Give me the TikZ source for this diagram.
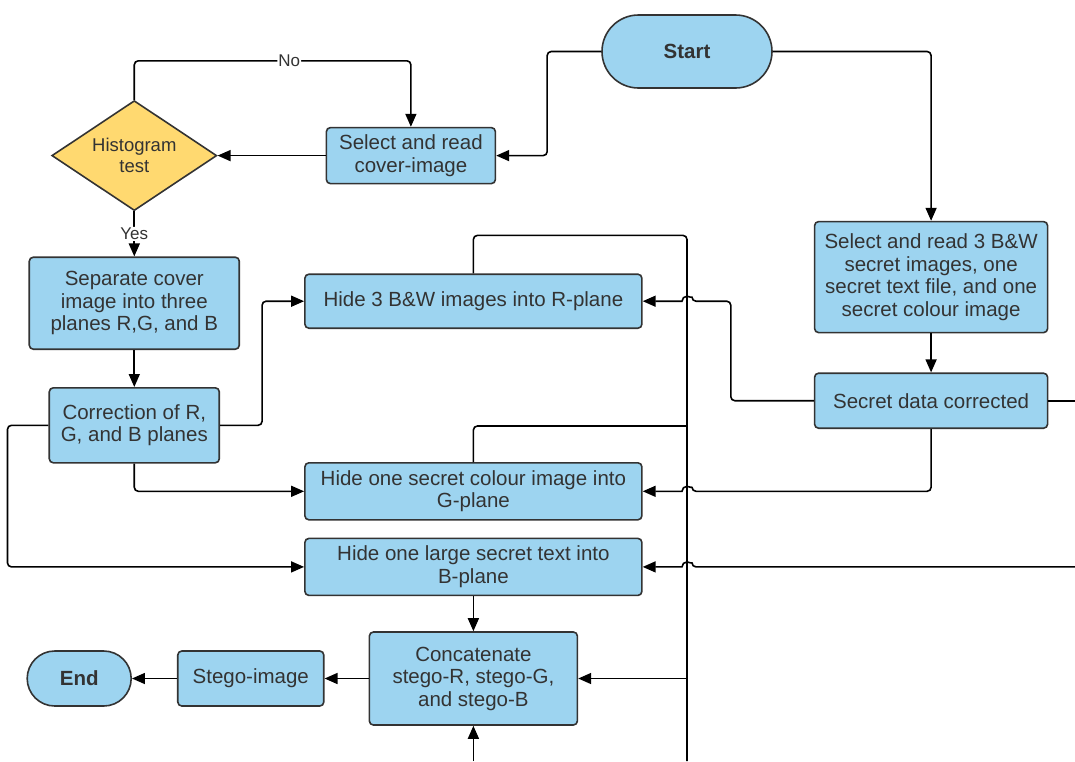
\documentclass[tikz,border=0pt]{standalone}
\usepackage{fontspec}
\setmainfont{Liberation Sans}
\usetikzlibrary{shapes}
\usetikzlibrary{positioning}
\usetikzlibrary{arrows.meta}

\definecolor{boxblue}{RGB}{157,212,240}
\definecolor{testyellow}{RGB}{255,217,112}
\definecolor{edgegray}{RGB}{51,51,51}

\begin{document}
\begin{tikzpicture}[
    font=\fontsize{20.5}{22.5}\selectfont,
    box/.style={draw=edgegray, line width=1.6pt, fill=boxblue, rounded corners=4pt, align=center, text=edgegray, inner sep=2pt},
    terminal/.style={draw=edgegray, line width=1.6pt, fill=boxblue, text=edgegray, font=\fontsize{20.5}{22.5}\selectfont\bfseries},
    test/.style={draw=edgegray, line width=1.6pt, fill=testyellow, diamond, aspect=1.5, align=center, inner sep=0pt, text=edgegray, font=\fontsize{18.5}{21}\selectfont},
    line/.style={draw, line width=1.6pt, rounded corners=4pt},
    arr/.style={line, -{Triangle[length=13pt,width=11pt]}},
    lbl/.style={fill=white, inner sep=1pt, text=edgegray, font=\fontsize{17}{20}\selectfont}
]

    \useasboundingbox (-687pt,51.5pt) rectangle (388pt,-709.5pt);

    % \node(start)[startstop]{Start};
    \node(start)[terminal, rounded corners=36.5pt, minimum width=170pt, minimum height=73pt]{Start};
    \node(cover)[box, minimum width=169pt, minimum height=56pt, below left=38pt and 105pt of start]{Select and read\\cover-image};
    \node(hist)[test, minimum width=165pt, minimum height=110pt, left=108pt of cover]{Histogram\\test};
    \node(sep)[box, minimum width=210pt, minimum height=92pt, below=45pt of hist]{Separate cover\\image into three\\planes R,G, and B};
    \node(corr)[box, minimum width=170pt, minimum height=75pt, below=37pt of sep]{Correction of R,\\G, and B planes};

    \node(hideR)[box, minimum width=337pt, minimum height=54pt, above right=58pt and 84pt of corr]{Hide 3 B\&W images into R-plane};
    \node(hideG)[box, minimum width=337pt, minimum height=57pt, below=133pt of hideR]{Hide one secret colour image into\\G-plane};
    \node(hideB)[box, minimum width=337pt, minimum height=57pt, below=17pt of hideG]{Hide one large secret text into\\B-plane};
    \node(concat)[box, minimum width=208pt, minimum height=93pt, below=35pt of hideB]{Concatenate\\stego-R, stego-G,\\and stego-B};
    \node(stego)[box, minimum width=146pt, minimum height=55pt, left=44pt of concat]{Stego-image};
    \node(end)[terminal, rounded corners=27.5pt, minimum width=104pt, minimum height=55pt, left=45pt of stego]{End};

    \node(sel3)[box, minimum width=233pt, minimum height=111pt, below right=132pt and 41pt of start]{Select and read 3 B\&W\\secret images, one\\secret text file, and one\\secret colour image};
    \node(secret)[box, minimum width=233pt, minimum height=55pt, below=39pt of sel3]{Secret data corrected};

    \coordinate[above=38pt of hideR.north] (rtop);
    \coordinate[above=36pt of hideG.north] (gtop);
    \coordinate (busend) at (start |- 0,-709.5pt);
    \coordinate (hopR) at (hideR.east -| start);
    \coordinate (hopG) at (hideG.east -| start);
    \coordinate (hopB) at (hideB.east -| start);
    \coordinate (sout) at (secret.east -| 388pt,0);
    \coordinate (bin) at (hideB.east -| 388pt,0);

    \draw[arr] (start.east) -| (sel3.north);
    \draw[arr] (start.west) -- ++(-54pt,0) |- (cover.east);
    \draw[arr] (cover.west) -- (hist.east);
    \draw[arr] (hist.north) -- ++(0,39pt) -| node[lbl, pos=0.28]{No} (cover.north);
    \draw[arr] (hist.south) -- node[lbl]{Yes} (sep.north);
    \draw[arr] (sep) -- (corr);
    \draw[arr] (corr.east) -- ++(42pt,0) |- (hideR.west);
    \draw[arr] (corr.south) |- (hideG.west);
    \draw[arr] (corr.west) -- ++(-41pt,0) |- (hideB.west);

    \draw[arr] (sel3) -- (secret);
    \draw[arr] (secret.west) -- ++(-83pt,0) |- ([xshift=5pt]hopR) [sharp corners] arc[start angle=0, end angle=180, radius=5pt] -- (hideR.east);
    \draw[arr] (secret.south) |- ([xshift=5pt]hopG) [sharp corners] arc[start angle=0, end angle=180, radius=5pt] -- (hideG.east);
    \draw[line] (secret.east) -- (sout);
    \draw[arr] (bin) -- ([xshift=5pt]hopB) [sharp corners] arc[start angle=0, end angle=180, radius=5pt] -- (hideB.east);

    \draw[line] (hideR.north) -- (rtop) -| (busend);
    \draw[line] (hideG.north) -- (gtop) -- (gtop -| start);
    \draw[arr] (hideB) -- (concat);
    \draw[arr] (concat.east -| start) -- (concat.east);
    \draw[arr] (concat.south |- busend) -- (concat.south);
    \draw[arr] (concat) -- (stego);
    \draw[arr] (stego) -- (end);

\end{tikzpicture}
\end{document}
